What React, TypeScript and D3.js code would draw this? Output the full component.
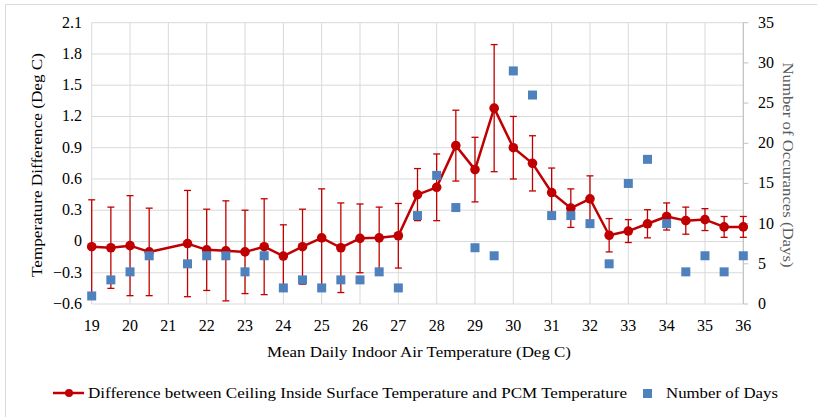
import React from "react";
import * as d3 from "d3";

const xValues = [19, 19.5, 20, 20.5, 21.5, 22, 22.5, 23, 23.5, 24, 24.5, 25, 25.5, 26, 26.5, 27, 27.5, 28, 28.5, 29, 29.5, 30, 30.5, 31, 31.5, 32, 32.5, 33, 33.5, 34, 34.5, 35, 35.5, 36];
const tempDiff = [-0.05, -0.06, -0.04, -0.1, -0.02, -0.08, -0.09, -0.1, -0.05, -0.14, -0.05, 0.035, -0.06, 0.03, 0.035, 0.055, 0.45, 0.52, 0.92, 0.69, 1.28, 0.9, 0.75, 0.47, 0.32, 0.41, 0.06, 0.1, 0.17, 0.24, 0.2, 0.21, 0.14, 0.14];
const tempErr = [0.45, 0.39, 0.48, 0.42, 0.51, 0.39, 0.48, 0.4, 0.46, 0.3, 0.36, 0.47, 0.43, 0.33, 0.295, 0.31, 0.25, 0.32, 0.34, 0.31, 0.61, 0.3, 0.265, 0.235, 0.185, 0.22, 0.16, 0.11, 0.135, 0.13, 0.13, 0.105, 0.1, 0.1];
const numDays = [1, 3, 4, 6, 5, 6, 6, 4, 6, 2, 3, 2, 3, 3, 4, 2, 11, 16, 12, 7, 6, 29, 26, 11, 11, 10, 5, 15, 18, 10, 4, 6, 4, 6];

const xTicks = d3.range(19, 37, 1);
const yTicks = [-0.6, -0.3, 0, 0.3, 0.6, 0.9, 1.2, 1.5, 1.8, 2.1];
const y2Ticks = [0, 5, 10, 15, 20, 25, 30, 35];

const lineLabel = "Difference between Ceiling Inside Surface Temperature and PCM Temperature";
const squareLabel = "Number of Days";
const xTitle = "Mean Daily Indoor Air Temperature (Deg C)";
const yTitle = "Temperature Difference  (Deg C)";
const y2Title = "Number of Occurances (Days)";

const W = 817, H = 417;
const L = 91.7, R = 743.3, T = 22.7, B = 304;
const RED = "#C00000";
const BLUE = "#4F81BD";
const FONT = "\"Times New Roman\", \"Liberation Serif\", serif";

export default function App() {
  const x = d3.scaleLinear().domain([19, 36]).range([L, R]);
  const y = d3.scaleLinear().domain([-0.6, 2.1]).range([B, T]);
  const y2 = d3.scaleLinear().domain([0, 35]).range([B, T]);
  const line = d3.line<number>().x((_, i) => x(xValues[i])).y((d) => y(d));
  const fmt = (v: number) => (v === 0 ? "0" : d3.format(".1f")(v));
  const ts: React.CSSProperties = { fontFamily: FONT, fontSize: "15.5px" };
  const tk: React.CSSProperties = { fontFamily: FONT, fontSize: "16px" };

  return (
    <svg width={W} height={H} style={{ position: "absolute", left: 0, top: 0, background: "#fff" }}>
      <rect x={0} y={0} width={W} height={H} fill="#fff" />
      <path d={`M5.5,${H} V4.5 H${W}`} fill="none" stroke="#d9d9d9" strokeWidth={1} />
      {yTicks.map((t) => (
        <line key={"hy" + t} x1={L} x2={R} y1={y(t)} y2={y(t)} stroke="#d9d9d9" strokeWidth={1} />
      ))}
      {xTicks.map((t) => (
        <line key={"vx" + t} x1={x(t)} x2={x(t)} y1={T} y2={B} stroke="#d9d9d9" strokeWidth={1} />
      ))}
      <line x1={R} x2={R} y1={T} y2={B} stroke="#bfbfbf" strokeWidth={1} />
      {y2Ticks.map((t) => (
        <line key={"t2" + t} x1={R} x2={R + 5} y1={y2(t)} y2={y2(t)} stroke="#bfbfbf" strokeWidth={1} />
      ))}
      {yTicks.map((t) => (
        <text key={"ly" + t} x={82} y={y(t) + 5} textAnchor="end" style={tk} fill="#000">{fmt(t)}</text>
      ))}
      {y2Ticks.map((t) => (
        <text key={"ly2" + t} x={758} y={y2(t) + 5} textAnchor="start" style={tk} fill="#000">{t}</text>
      ))}
      {xTicks.map((t) => (
        <text key={"lx" + t} x={x(t)} y={331} textAnchor="middle" style={tk} fill="#000">{t}</text>
      ))}
      <text x={419} y={357} textAnchor="middle" style={ts} fill="#000" textLength={304} lengthAdjust="spacingAndGlyphs">{xTitle}</text>
      <text transform={`translate(42,165) rotate(-90)`} textAnchor="middle" style={ts} fill="#000" textLength={224} lengthAdjust="spacingAndGlyphs">{yTitle}</text>
      <text transform={`translate(783,165) rotate(90)`} textAnchor="middle" style={ts} fill="#595959" textLength={205} lengthAdjust="spacingAndGlyphs">{y2Title}</text>
      {tempDiff.map((d, i) => {
        const cx = x(xValues[i]);
        const lo = Math.max(d - tempErr[i], -0.6);
        const hi = d + tempErr[i];
        return (
          <g key={"e" + i} stroke={RED} strokeWidth={1.3}>
            <line x1={cx} x2={cx} y1={y(lo)} y2={y(hi)} />
            <line x1={cx - 3.5} x2={cx + 3.5} y1={y(hi)} y2={y(hi)} />
            {d - tempErr[i] >= -0.6 && <line x1={cx - 3.5} x2={cx + 3.5} y1={y(lo)} y2={y(lo)} />}
          </g>
        );
      })}
      <path d={line(tempDiff) || ""} fill="none" stroke={RED} strokeWidth={2.5} strokeLinejoin="round" />
      {tempDiff.map((d, i) => (
        <circle key={"c" + i} cx={x(xValues[i])} cy={y(d)} r={4.8} fill={RED} />
      ))}
      {numDays.map((d, i) => (
        <rect key={"s" + i} x={x(xValues[i]) - 4.5} y={y2(d) - 4.5} width={9} height={9} fill={BLUE} />
      ))}
      <line x1={53} x2={84} y1={393} y2={393} stroke={RED} strokeWidth={2.5} />
      <circle cx={69} cy={393} r={4} fill={RED} />
      <text x={88} y={398} style={ts} fill="#000" textLength={539} lengthAdjust="spacingAndGlyphs">{lineLabel}</text>
      <rect x={643} y={389} width={9} height={9} fill={BLUE} />
      <text x={666} y={398} style={ts} fill="#000" textLength={112} lengthAdjust="spacingAndGlyphs">{squareLabel}</text>
    </svg>
  );
}
